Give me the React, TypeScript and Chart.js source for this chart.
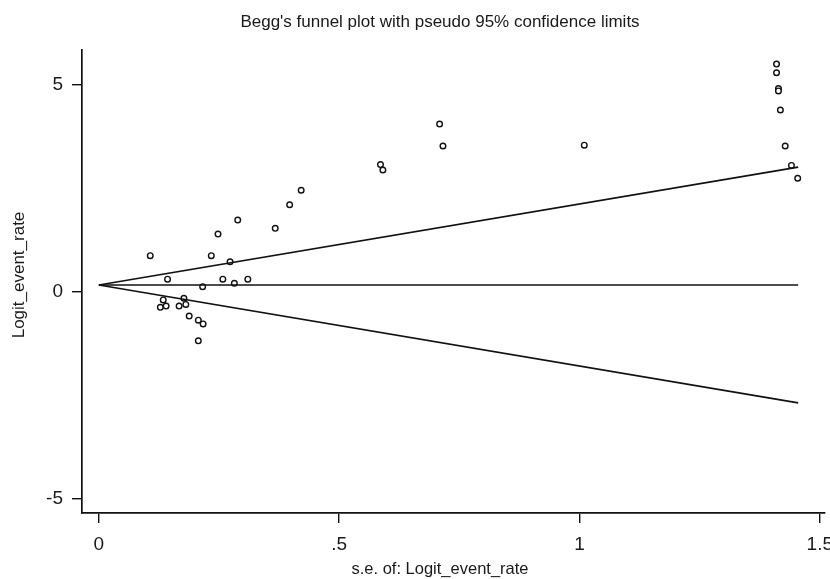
import React, { useEffect, useRef } from "react";
import { Chart, registerables } from "chart.js";

Chart.register(...registerables);

// Study points: standard error of logit (x) and logit event rate (y)
const seValues = [
  0.107, 0.248, 0.289, 0.234, 0.273, 0.143, 0.258, 0.310, 0.282, 0.216,
  0.134, 0.177, 0.128, 0.140, 0.167, 0.181, 0.188, 0.207, 0.217, 0.207,
  0.421, 0.397, 0.367, 0.586, 0.591, 0.709, 0.716, 1.010, 1.410, 1.410,
  1.414, 1.414, 1.418, 1.428, 1.441, 1.454,
];
const logitValues = [
  0.88, 1.40, 1.74, 0.88, 0.73, 0.31, 0.31, 0.31, 0.21, 0.13,
  -0.19, -0.15, -0.37, -0.34, -0.34, -0.30, -0.58, -0.68, -0.77, -1.18,
  2.46, 2.11, 1.54, 3.08, 2.95, 4.06, 3.53, 3.55, 5.51, 5.30,
  4.92, 4.86, 4.40, 3.53, 3.06, 2.75,
];

// Funnel lines (pseudo 95% limits), endpoints
const lineSe = [0, 1.455];
const centerLine = [0.17, 0.17];
const upperLine = [0.17, 3.02];
const lowerLine = [0.17, -2.68];

// Axis ticks
const xTicks = [0, 0.5, 1, 1.5];
const xTickLabels = ["0", ".5", "1", "1.5"];
const yTicks = [-5, 0, 5];
const yTickLabels = ["-5", "0", "5"];

const chartTitle = "Begg's funnel plot with pseudo 95% confidence limits";
const xTitle = "s.e. of: Logit_event_rate";
const yTitle = "Logit_event_rate";

const FONT = '"Liberation Sans", Arial, sans-serif';

export default function App() {
  const ref = useRef<HTMLCanvasElement | null>(null);

  useEffect(() => {
    document.body.style.margin = "0";
    const canvas = ref.current;
    if (!canvas) return;

    const toXY = (xs: number[], ys: number[]) => xs.map((x, i) => ({ x, y: ys[i] }));
    const lineDs = (label: string, ys: number[]) => ({
      type: "line" as const,
      label,
      data: toXY(lineSe, ys),
      borderColor: "#111",
      borderWidth: 1.7,
      pointRadius: 0,
      showLine: true,
      fill: false,
    });

    const textPlugin = {
      id: "texts",
      afterDraw(chart: any) {
        const ctx = chart.ctx;
        ctx.save();
        ctx.fillStyle = "#1a1a1a";
        ctx.textAlign = "center";
        ctx.textBaseline = "middle";
        ctx.font = `17px ${FONT}`;
        ctx.fillText(chartTitle, 440, 22);
        ctx.font = `16.5px ${FONT}`;
        ctx.fillText(xTitle, 440, 569);
        ctx.translate(19, 275);
        ctx.rotate(-Math.PI / 2);
        ctx.font = `17px ${FONT}`;
        ctx.fillText(yTitle, 0, 0);
        ctx.restore();
      },
    };

    const chart = new Chart(canvas, {
      type: "scatter",
      data: {
        datasets: [
          lineDs("center", centerLine),
          lineDs("upper", upperLine),
          lineDs("lower", lowerLine),
          {
            type: "scatter",
            label: "studies",
            data: toXY(seValues, logitValues),
            pointStyle: "circle",
            pointRadius: 2.8,
            pointBorderWidth: 1.4,
            borderColor: "#111",
            backgroundColor: "#fff",
          } as any,
        ],
      },
      options: {
        animation: false,
        responsive: false,
        layout: { padding: { top: 50, right: 0, left: 0, bottom: 0 } },
        plugins: {
          legend: { display: false },
          title: { display: false },
          tooltip: { enabled: false },
        },
        scales: {
          x: {
            type: "linear",
            min: -0.035,
            max: 1.51,
            afterBuildTicks: (s: any) => {
              s.ticks = xTicks.map((v) => ({ value: v }));
            },
            afterFit: (s: any) => {
              s.height = 66;
              s.paddingLeft = 0;
              s.paddingRight = 0;
            },
            ticks: {
              autoSkip: false,
              maxRotation: 0,
              padding: 10,
              color: "#1a1a1a",
              font: { family: FONT, size: 19 },
              callback: (v: any) => {
                const i = xTicks.indexOf(Number(v));
                return i >= 0 ? xTickLabels[i] : "";
              },
            },
            grid: {
              display: true,
              drawOnChartArea: false,
              drawTicks: true,
              tickLength: 10,
              color: "#111",
              lineWidth: 1.4,
            },
            border: { display: true, color: "#111", width: 1.7 },
          },
          y: {
            type: "linear",
            min: -5.34,
            max: 5.85,
            afterBuildTicks: (s: any) => {
              s.ticks = yTicks.map((v) => ({ value: v }));
            },
            afterFit: (s: any) => {
              s.width = 82;
            },
            ticks: {
              autoSkip: false,
              padding: 9,
              color: "#1a1a1a",
              font: { family: FONT, size: 19 },
              callback: (v: any) => {
                const i = yTicks.indexOf(Number(v));
                return i >= 0 ? yTickLabels[i] : "";
              },
            },
            grid: {
              display: true,
              drawOnChartArea: false,
              drawTicks: true,
              tickLength: 10,
              color: "#111",
              lineWidth: 1.4,
            },
            border: { display: true, color: "#111", width: 1.7 },
          },
        },
      },
      plugins: [textPlugin],
    } as any);

    return () => chart.destroy();
  }, []);

  return (
    <div style={{ width: 830, height: 579, background: "#fff" }}>
      <canvas ref={ref} width={830} height={579} />
    </div>
  );
}
